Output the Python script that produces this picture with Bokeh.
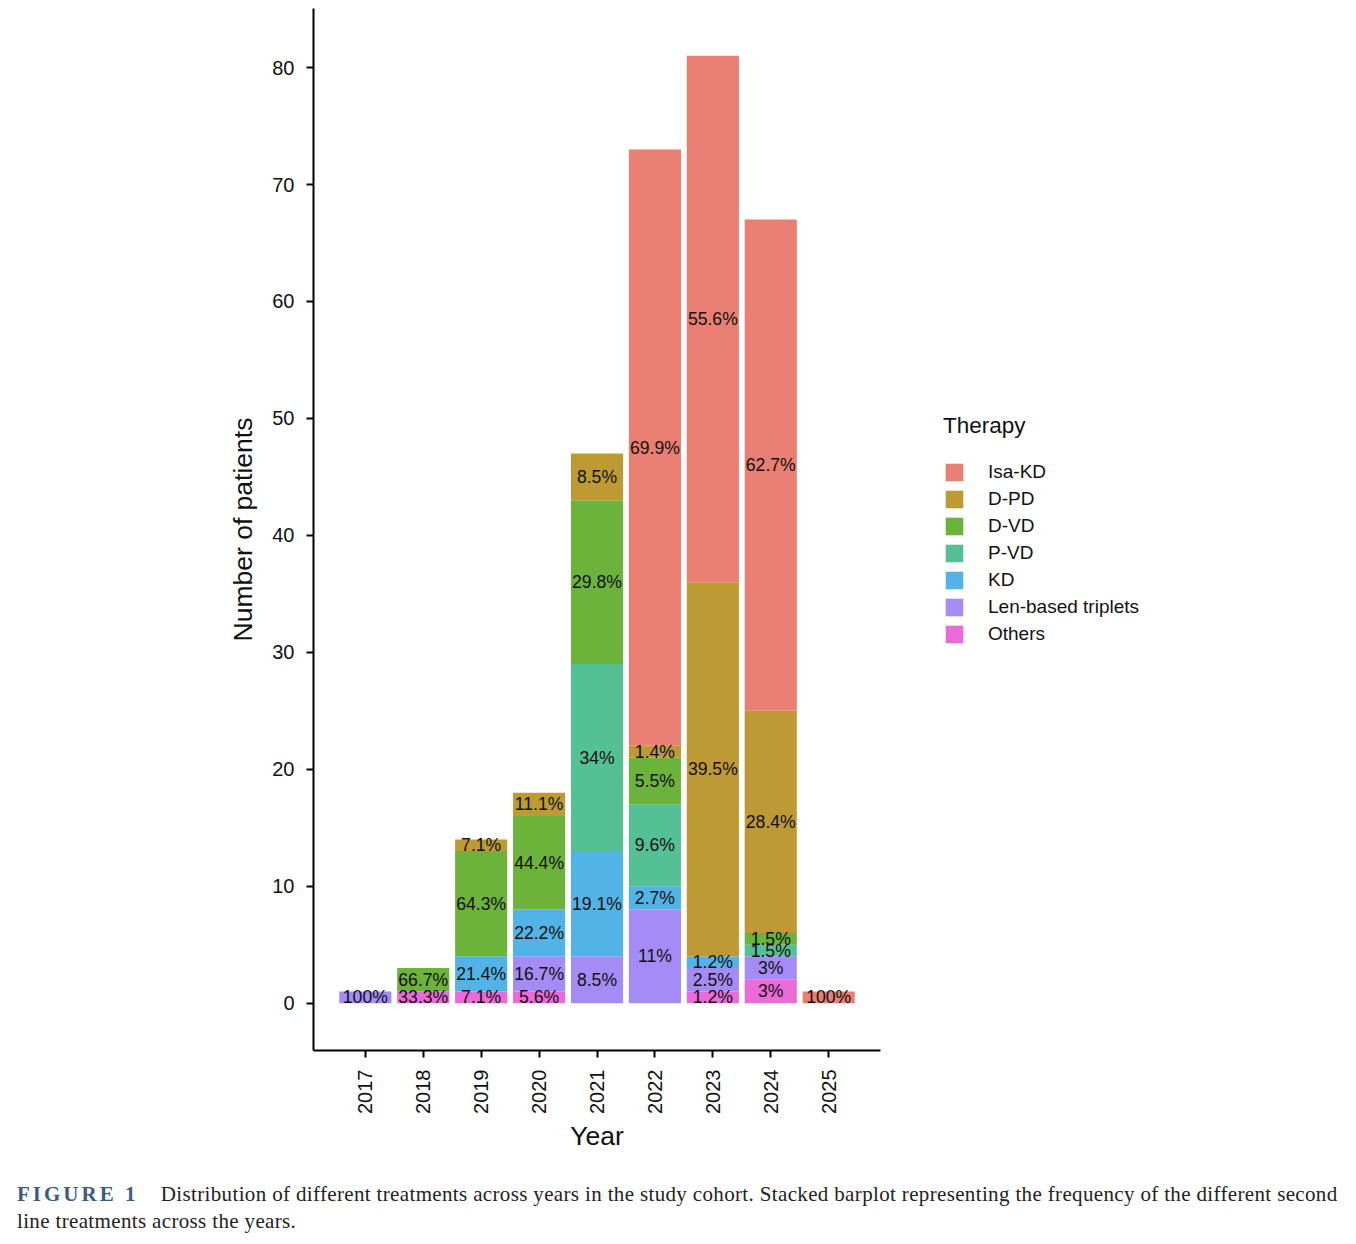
import math
from bokeh.plotting import figure
from bokeh.models import (Range1d, FixedTicker, ColumnDataSource, Legend,
                          LegendItem, Div)
from bokeh.layouts import column
from bokeh.embed import file_html
from bokeh.resources import INLINE
from bokeh.core.properties import value

years = [2017, 2018, 2019, 2020, 2021, 2022, 2023, 2024, 2025]
therapies = ["Others", "Len-based triplets", "KD", "P-VD", "D-VD", "D-PD", "Isa-KD"]
others = [0, 1, 1, 1, 0, 0, 1, 2, 0]
len_based = [1, 0, 0, 3, 4, 8, 2, 2, 0]
kd = [0, 0, 3, 4, 9, 2, 1, 0, 0]
p_vd = [0, 0, 0, 0, 16, 7, 0, 1, 0]
d_vd = [0, 2, 9, 8, 14, 4, 0, 1, 0]
d_pd = [0, 0, 1, 2, 4, 1, 32, 19, 0]
isa_kd = [0, 0, 0, 0, 0, 51, 45, 42, 1]
series = [others, len_based, kd, p_vd, d_vd, d_pd, isa_kd]
colors = ["#EA6AD8", "#A48BF6", "#52B4E6", "#55BF95", "#6BB33A", "#BD9A33", "#E87F72"]
y_ticks = [0, 10, 20, 30, 40, 50, 60, 70, 80]

FONT = "Liberation Sans"

data = {"year": years}
for name, vals in zip(therapies, series):
    data[name] = vals
source = ColumnDataSource(data)

# label positions (segment midpoints) and percentages
lx, ly, lt = [], [], []
for i, yr in enumerate(years):
    total = sum(s[i] for s in series)
    bottom = 0
    for s in series:
        v = s[i]
        if v > 0:
            pct = round(100.0 * v / total, 1)
            lx.append(yr)
            ly.append(bottom + v / 2.0)
            lt.append(f"{pct:g}%")
        bottom += v
label_src = ColumnDataSource(dict(x=lx, y=ly, t=lt))

p = figure(frame_width=567, frame_height=1042, output_backend="svg",
           toolbar_location=None,
           x_range=Range1d(2016.105, 2025.895), y_range=Range1d(-4.05, 85.05),
           min_border_left=313, min_border_right=420, min_border_top=8,
           min_border_bottom=110)
p.outline_line_color = None
p.xgrid.visible = False
p.ygrid.visible = False
p.background_fill_color = "white"

rs = p.vbar_stack(therapies, x="year", width=0.9, color=colors, line_color=None,
                  source=source)

p.text(x="x", y="y", text="t", source=label_src, text_align="center",
       text_baseline="middle", text_font=value(FONT), text_font_size="17.6px",
       text_color="#111111")

for ax in (p.xaxis[0], p.yaxis[0]):
    ax.axis_line_width = 2
    ax.axis_line_color = "black"
    ax.major_tick_line_width = 2
    ax.major_tick_line_color = "black"
    ax.major_tick_out = 7
    ax.major_tick_in = 0
    ax.minor_tick_out = 0
    ax.minor_tick_in = 0
    ax.major_label_text_font = FONT
    ax.major_label_text_font_size = "20px"
    ax.major_label_text_color = "#111111"
    ax.axis_label_text_font = FONT
    ax.axis_label_text_font_size = "26.5px"
    ax.axis_label_text_font_style = "normal"
    ax.axis_label_text_color = "#111111"

p.xaxis.ticker = FixedTicker(ticks=years)
p.yaxis.ticker = FixedTicker(ticks=y_ticks)
p.xaxis.major_label_orientation = math.pi / 2
p.xaxis.major_label_standoff = 12
p.yaxis.major_label_standoff = 12
p.xaxis.axis_label = "Year"
p.yaxis.axis_label = "Number of patients"
p.xaxis.axis_label_standoff = 4
p.yaxis.axis_label_standoff = 11

items = [LegendItem(label=name, renderers=[r]) for name, r in zip(therapies, rs)]
items = items[::-1]
legend = Legend(items=items, title="Therapy", location="center_left",
                orientation="vertical")
legend.margin = 63
legend.padding = 8
legend.border_line_color = None
legend.background_fill_alpha = 0
legend.title_text_font = FONT
legend.title_text_font_size = "22.5px"
legend.title_text_font_style = "normal"
legend.title_text_color = "#111111"
legend.title_standoff = 22
legend.label_text_font = FONT
legend.label_text_font_size = "19px"
legend.label_text_color = "#111111"
legend.glyph_width = 22
legend.glyph_height = 22
legend.label_height = 21
legend.spacing = 5
legend.label_standoff = 23
p.add_layout(legend, "right")

caption = Div(
    text=('<div style="font-family: \'Liberation Serif\', serif; font-size: 21px; '
          'letter-spacing: 0.35px; line-height: 27px; color: #222; '
          'padding-left: 12px; margin-top: 16px; white-space: nowrap;">'
          '<span style="font-weight: bold; color: #3d5a80; letter-spacing: 3px;">'
          'FIGURE 1</span>&nbsp;&nbsp;&nbsp; Distribution of different treatments '
          'across years in the study cohort. Stacked barplot representing the frequency '
          'of the different second<br>line treatments across the years.</div>'),
    width=1340)

layout = column(p, caption)
open("out.html", "w").write(file_html(layout, INLINE))
